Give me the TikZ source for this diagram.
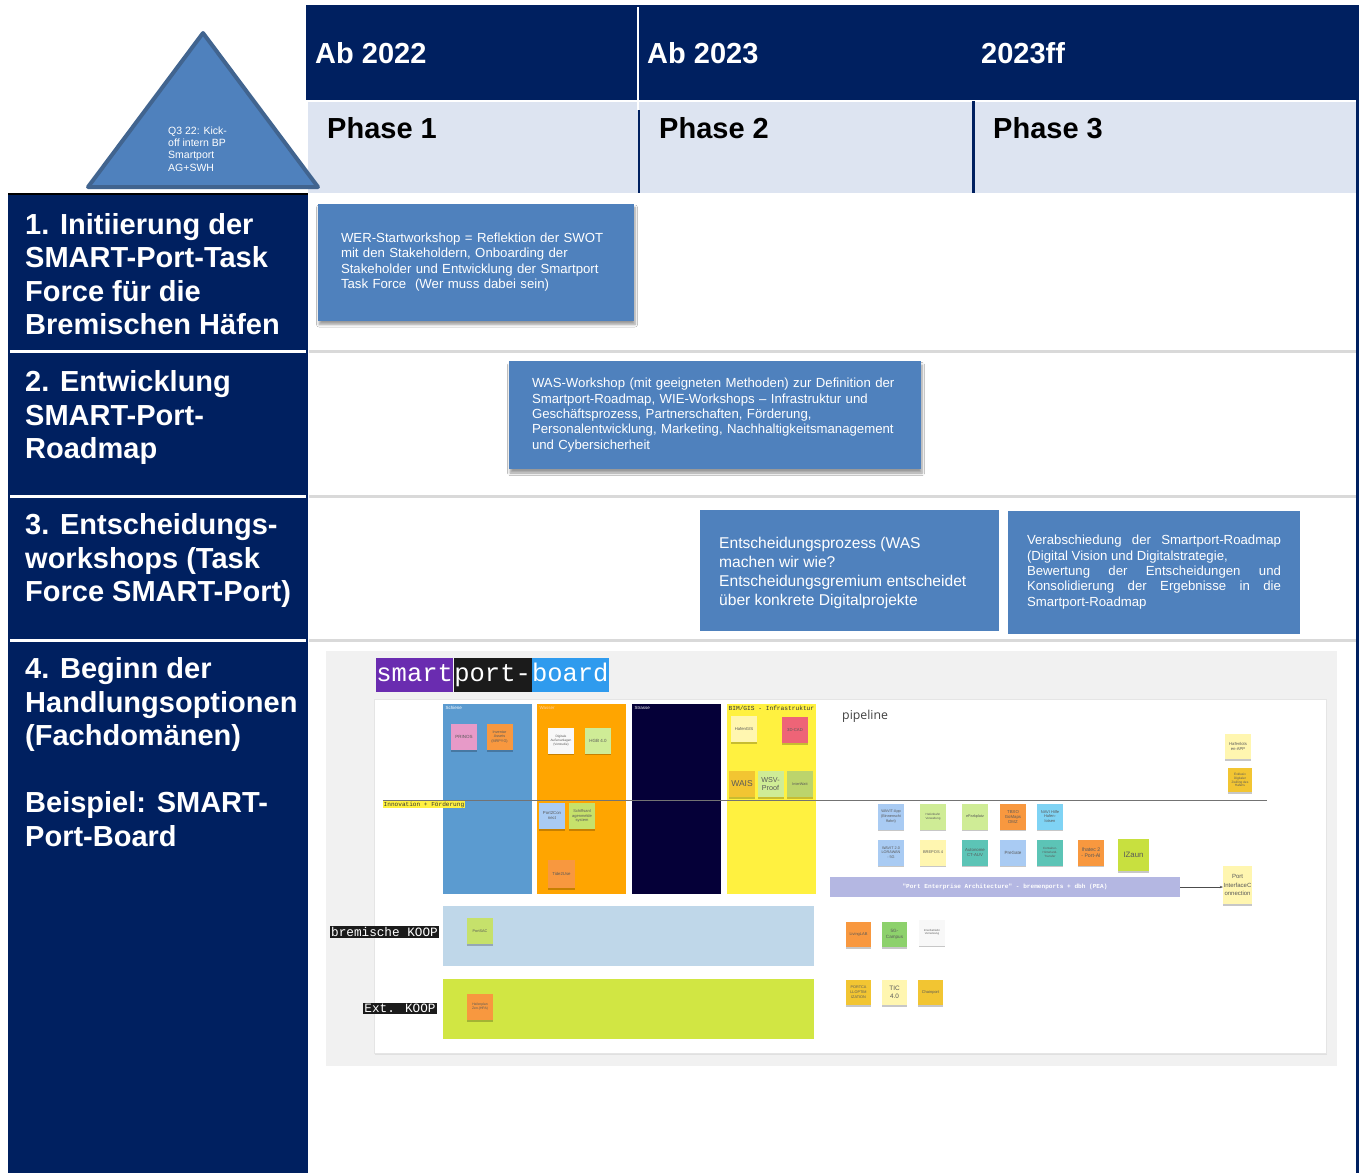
\documentclass[tikz,border=0pt]{standalone}
\usepackage{fontspec}
\setmainfont{Liberation Sans}
\newfontfamily\monofont{Liberation Mono}
\newfontfamily\opensans{Open Sans}
\usetikzlibrary{shadows,shadows.blur,arrows.meta}

\definecolor{hdrnavy}{HTML}{002060}
\definecolor{bandblue}{HTML}{DDE4F1}
\definecolor{boxblue}{HTML}{4F81BD}
\definecolor{triedge}{HTML}{41648F}
\definecolor{sepgray}{HTML}{D9D9D9}
\definecolor{boardbg}{HTML}{F1F1F1}
\definecolor{colschiene}{HTML}{5B9BD0}
\definecolor{colwasser}{HTML}{FFA500}
\definecolor{colstrasse}{HTML}{050038}
\definecolor{colbim}{HTML}{FFF140}
\definecolor{kooplight}{HTML}{BFD7E9}
\definecolor{kooplime}{HTML}{D1E643}
\definecolor{peabar}{HTML}{B4B7E2}
\definecolor{titlepurple}{HTML}{6A2CB0}
\definecolor{titleblack}{HTML}{1B1B1B}
\definecolor{titleblue}{HTML}{2F9BEE}
\definecolor{stpink}{HTML}{E79AC8}
\definecolor{storange}{HTML}{F8983F}
\definecolor{stwhite}{HTML}{F8F8F8}
\definecolor{stlgreen}{HTML}{CFEC96}
\definecolor{stblue}{HTML}{A9CBF3}
\definecolor{stolive}{HTML}{C6E16B}
\definecolor{stpale}{HTML}{FFF6B0}
\definecolor{stred}{HTML}{EE6477}
\definecolor{stgold}{HTML}{F2C532}
\definecolor{stgreen2}{HTML}{BCD46C}
\definecolor{stcyan}{HTML}{7FD3F4}
\definecolor{stteal}{HTML}{5CC4B6}
\definecolor{stlime}{HTML}{C8E03F}
\definecolor{stgreen}{HTML}{8DD16C}

\tikzset{
  rowtitle/.style={anchor=north west, inner sep=0pt, align=left, text=white,
    font=\fontsize{29}{33.5}\selectfont\bfseries},
  yearlabel/.style={anchor=base west, inner sep=0pt, text=white,
    font=\fontsize{29}{33}\selectfont\bfseries},
  phaselabel/.style={anchor=base west, inner sep=0pt, text=black,
    font=\fontsize{29}{33}\selectfont\bfseries},
  bluebox/.style={fill=boxblue, inner sep=0pt, text=white, align=left},
  boxshadow/.style={blur shadow={shadow xshift=1pt, shadow yshift=-4pt,
    shadow blur steps=6, shadow opacity=40, shadow blur radius=2.5pt}},
  sticky/.style={minimum width=26pt, minimum height=26pt, inner sep=0.5pt,
    align=center, text=black!65, font=\fontsize{3.8}{4.4}\selectfont,
    drop shadow={shadow xshift=0pt, shadow yshift=-1.6pt, opacity=0.22, fill=black}},
  lane/.style={inner sep=0pt},
  lanelabel/.style={anchor=north west, inner sep=0.4pt, font=\fontsize{4.5}{5}\selectfont},
  kooplabel/.style={fill=titleblack, text=white, inner sep=1.2pt,
    font=\monofont\fontsize{12.7}{13}\selectfont},
  titlepart/.style={anchor=west, inner sep=0pt, minimum height=34pt, text=white,
    text height=17pt, text depth=5pt,
    font=\monofont\fontsize{25.5}{26}\selectfont}
}

\begin{document}
\begin{tikzpicture}[x=1pt,y=-1pt]
\useasboundingbox (0,0) rectangle (1364,1173);
\fill[white] (0,0) rectangle (1364,1173);

% ---------- header bands ----------
\fill[hdrnavy] (306,5) rectangle (1358,100);
\fill[bandblue] (308,101) rectangle (1356,193);
\draw[white, line width=2pt] (306,100.5) -- (1358,100.5);
\draw[white, line width=2pt] (638,7) -- (638,110);
\draw[hdrnavy, line width=2.5pt] (639,110) -- (639,193);
\draw[hdrnavy, line width=3pt] (973,101) -- (973,193);
\fill[hdrnavy] (1356,5) rectangle (1359,1173);

\node[yearlabel] (y1) at (315,63) {Ab 2022};
\node[yearlabel] (y2) at (647,63) {Ab 2023};
\node[yearlabel] (y3) at (981,63) {2023ff};
\node[phaselabel] (p1) at (327,138) {Phase 1};
\node[phaselabel] (p2) at (659,138) {Phase 2};
\node[phaselabel] (p3) at (993,138) {Phase 3};

% ---------- left column with row titles ----------
\fill[hdrnavy] (8,194) rectangle (308,1173);
\draw[black, line width=2.5pt] (8,194) -- (308,194);
\foreach \yy in {351.5,496.5,640.5}{
  \draw[white, line width=3pt] (10,\yy) -- (306,\yy);
  \draw[sepgray, line width=3pt] (309,\yy) -- (1356,\yy);
}

\node[rowtitle] (row1) at (25,213) {1. Initiierung der\\SMART-Port-Task\\Force für die\\Bremischen Häfen};
\node[rowtitle] (row2) at (25,370.5) {2. Entwicklung\\SMART-Port-\\Roadmap};
\node[rowtitle] (row3) at (25,513.5) {3. Entscheidungs-\\workshops (Task\\Force SMART-Port)};
\node[rowtitle] (row4) at (25,657.5) {4. Beginn der\\Handlungsoptionen\\(Fachdomänen)\\[33.5pt]Beispiel: SMART-\\Port-Board};

% ---------- kick-off triangle ----------
\draw[fill=boxblue, draw=triedge, line width=4pt, line join=round]
  (203,33) -- (318,187) -- (88,187) -- cycle;
\node[anchor=north west, inner sep=0pt, align=left, text=white,
  font=\fontsize{10.5}{12.3}\selectfont] (kick) at (168,126.5)
  {Q3 22: Kick-\\off intern BP\\Smartport\\AG+SWH};

% ---------- workshop boxes ----------
\node[bluebox, boxshadow, minimum width=316pt, minimum height=117pt, text width=270pt,
  font=\fontsize{13.2}{15.4}\selectfont] (wer) at (476,262)
  {WER-Startworkshop = Reflektion der SWOT\\mit den Stakeholdern, Onboarding der\\Stakeholder und Entwicklung der Smartport\\Task Force\ \ (Wer muss dabei sein)};

\node[bluebox, boxshadow, minimum width=412pt, minimum height=108pt, text width=366pt,
  font=\fontsize{13.2}{15.4}\selectfont] (was) at (715,415)
  {WAS-Workshop (mit geeigneten Methoden) zur Definition der\\Smartport-Roadmap, WIE-Workshops -- Infrastruktur und\\Geschäftsprozess, Partnerschaften, Förderung,\\Personalentwicklung, Marketing, Nachhaltigkeitsmanagement\\und Cybersicherheit};

\node[bluebox, minimum width=299pt, minimum height=121pt] (decide) at (849.5,570) {};
\node[anchor=north west, inner sep=0pt, align=left, text=white,
  font=\fontsize{15.6}{19.1}\selectfont] (decidetext) at (719,536.5)
  {Entscheidungsprozess (WAS\\machen wir wie?\\Entscheidungsgremium entscheidet\\über konkrete Digitalprojekte};

\node[bluebox, align=justify, minimum width=292pt, minimum height=123pt, text width=254pt,
  font=\fontsize{13.2}{15.3}\selectfont] (adopt) at (1154,572)
  {Verabschiedung der Smartport-Roadmap\linebreak (Digital Vision und Digitalstrategie,\\
   Bewertung der Entscheidungen und\linebreak Konsolidierung der Ergebnisse in die\linebreak Smartport-Roadmap};

% ---------- smartport board ----------
\fill[boardbg] (326,651) rectangle (1337,1066);
\node[fill=white, draw=black!10, inner sep=0pt, minimum width=952pt, minimum height=354pt,
  drop shadow={shadow xshift=1pt, shadow yshift=-2pt, opacity=0.15}] (panel) at (850,876) {};

\node[titlepart, fill=titlepurple, minimum width=77pt] (tsmart) at (376,675) {smart};
\node[titlepart, fill=titleblack, minimum width=78pt] (tport) at (tsmart.east) {port-};
\node[titlepart, fill=titleblue, minimum width=76pt] (tboard) at (tport.east) {board};

% domain lanes
\node[lane, fill=colschiene, minimum width=89pt, minimum height=190pt] (schiene) at (487.5,799) {};
\node[lane, fill=colwasser, minimum width=89pt, minimum height=190pt] (wasser) at (581.5,799) {};
\node[lane, fill=colstrasse, minimum width=89pt, minimum height=190pt] (strasse) at (676.5,799) {};
\node[lane, fill=colbim, minimum width=89pt, minimum height=190pt] (bim) at (771.5,799) {};
\node[lanelabel, text=white] (lschiene) at (445,706) {Schiene};
\node[lanelabel, text=orange!35!white] (lwasser) at (539,706) {Wasser};
\node[lanelabel, text=white] (lstrasse) at (634,706) {Strasse};
\node[lanelabel, text=black!80, font=\monofont\fontsize{6.2}{7}\selectfont] (lbim) at (728,705.5) {BIM/GIS - Infrastruktur};

% innovation divider
\coordinate (innoL) at (383,800);
\coordinate (innoR) at (1267,800);
\draw[black!55, line width=0.7pt] (innoL) -- (innoR);
\node[anchor=north west, fill=colbim, inner sep=0.5pt, text=black!80,
  font=\monofont\fontsize{6.1}{6.5}\selectfont] (inno) at (383,801) {Innovation + Förderung};

\node[anchor=west, inner sep=0pt, text=black!75, font=\opensans\fontsize{12.3}{14}\selectfont] (pipe) at (842,716) {pipeline};

% notes: Schiene / Wasser / BIM
\node[sticky, fill=stpink, font=\fontsize{4.5}{5}\selectfont] (prinos) at (464,737) {PRINOS};
\node[sticky, fill=storange] (inventar) at (499.5,737) {Inventar\\Assets\\(MRPYG)};
\node[sticky, fill=stwhite, font=\fontsize{3.2}{3.8}\selectfont] (digaussen) at (561,740.5) {Digitale\\Außenanlagen\\(Vorstudie)};
\node[sticky, fill=stlgreen, font=\fontsize{4.5}{5}\selectfont] (hgb) at (598,740.5) {HGB 4.0};
\node[sticky, fill=stblue, font=\fontsize{4.3}{5}\selectfont] (p2c) at (552,816) {Port2Con\\nect};
\node[sticky, fill=stolive, font=\fontsize{4}{4.8}\selectfont] (schiffs) at (582,816) {Schiffsanl\\agenmelde\\system};
\node[sticky, fill=storange, minimum width=27pt, minimum height=28pt, font=\fontsize{4.3}{5}\selectfont] (tide) at (561.5,874) {Tide2Use};
\node[sticky, fill=stpale, font=\fontsize{4.2}{5}\selectfont] (hafengis) at (744,729) {HafenGIS};
\node[sticky, fill=stred, font=\fontsize{4.2}{5}\selectfont] (cad) at (795,730) {3D-CAD};
\node[sticky, fill=stgold, font=\fontsize{8.5}{9}\selectfont] (wais) at (742,784) {WAIS};
\node[sticky, fill=stlgreen, font=\fontsize{7.2}{8.6}\selectfont] (wsv) at (770.5,784) {WSV-\\Proof};
\node[sticky, fill=stgreen2, font=\fontsize{3.8}{4.4}\selectfont] (interwatt) at (800,784) {InterWatt};

% notes: pipeline
\node[sticky, fill=stpale, minimum height=25pt, font=\fontsize{4.2}{5}\selectfont] (hlots) at (1238,746.5) {Hafenlots\\en-APP};
\node[sticky, fill=stgold, minimum width=24pt, minimum height=24pt, font=\fontsize{3.2}{3.7}\selectfont] (exdz) at (1240,780) {Exklusiv\\Digitaler\\Zwilling des\\Hafens};

\node[sticky, fill=stblue, font=\fontsize{3.8}{4.6}\selectfont] (wavit) at (891,816.5) {WAVIT-App\\(Binnenschi\\ffahrt)};
\node[sticky, fill=stlgreen, font=\fontsize{3}{3.6}\selectfont] (dighb) at (933,816.5) {Hafenbahn\\Verwaltung};
\node[sticky, fill=stlgreen, font=\fontsize{3.8}{4.6}\selectfont] (epark) at (975,816.5) {eParkplatz};
\node[sticky, fill=storange, font=\fontsize{4.3}{5}\selectfont] (tbxo) at (1013,816.5) {TBXO\\GoMaps\\DMZ};
\node[sticky, fill=stcyan, font=\fontsize{4}{4.8}\selectfont] (navi) at (1050,816.5) {NAVI Hilfe\\Hafen-\\lotsen};

\node[sticky, fill=stblue, font=\fontsize{3.8}{4.6}\selectfont] (wavit2) at (891,852.5) {WAVIT 2.0\\LORAWAN\\- 5G};
\node[sticky, fill=stpale, font=\fontsize{4}{4.8}\selectfont] (brepos) at (933,852.5) {BREPOS 4};
\node[sticky, fill=stteal, font=\fontsize{4.3}{5}\selectfont] (autonom) at (975,852.5) {Autonome\\CT-AUV};
\node[sticky, fill=stblue, font=\fontsize{4.5}{5}\selectfont] (pregate) at (1013,852.5) {PreGate};
\node[sticky, fill=stteal, font=\fontsize{3}{3.6}\selectfont] (contain) at (1050,852.5) {Container-\\Hinterland-\\Transfer};
\node[sticky, fill=storange, font=\fontsize{5.2}{6.4}\selectfont] (ihatec) at (1091,852.5) {Ihatec 2\\- Port-AI};
\node[sticky, fill=stlime, minimum width=31pt, minimum height=32pt, font=\fontsize{7.8}{9}\selectfont] (izaun) at (1133.5,855) {IZaun};

\node[inner sep=0pt, fill=peabar, minimum width=350pt, minimum height=20pt, text=white,
  font=\monofont\bfseries\fontsize{6.1}{7}\selectfont] (pea) at (1005,887)
  {"Port Enterprise Architecture" - bremenports + dbh (PEA)};
\node[sticky, fill=stpale, minimum width=29pt, minimum height=38pt, font=\fontsize{6}{8.2}\selectfont] (pic) at (1237.5,885)
  {Port\\InterfaceC\\onnection};
\draw[-{Stealth[length=3pt,width=2.5pt]}, black!70, line width=0.5pt] (pea.east) -- (pea.east -| pic.west);

% cooperation lanes
\node[lane, fill=kooplight, minimum width=371pt, minimum height=60pt] (bremband) at (628.5,936) {};
\node[lane, fill=kooplime, minimum width=371pt, minimum height=60pt] (extband) at (628.5,1009) {};
\node[kooplabel] (bremlab) at (384.5,932) {bremische KOOP};
\node[kooplabel] (extlab) at (400,1008.5) {Ext. KOOP};

\node[sticky, fill=stolive, font=\fontsize{3.8}{4.4}\selectfont] (portsac) at (480,931) {PortSAC};
\node[sticky, fill=storange, font=\fontsize{3.4}{4.2}\selectfont] (hafenplan) at (480,1007) {Hafenplan\\Zen.(HPA)};
\node[sticky, fill=storange, minimum width=25pt, minimum height=25pt, font=\fontsize{4}{4.6}\selectfont] (living) at (858.5,934.5) {LivingLAB};
\node[sticky, fill=stgreen, minimum width=25pt, minimum height=25pt, font=\fontsize{4.6}{6}\selectfont] (campus) at (894.5,934.5) {5G-\\Campus};
\node[sticky, fill=stwhite, font=\fontsize{2.8}{3.4}\selectfont] (inner) at (932,932.5) {Innerbetriebl.\\Vernetzung};
\node[sticky, fill=stgold, minimum width=25pt, minimum height=25pt, font=\fontsize{3.8}{5}\selectfont] (portcall) at (858.5,992.5) {PORTCA\\LLOPTIM\\IZATION};
\node[sticky, fill=stpale, minimum width=25pt, minimum height=25pt, font=\fontsize{6.4}{8}\selectfont] (tic) at (894.5,992.5) {TIC\\4.0};
\node[sticky, fill=stgold, minimum width=25pt, minimum height=25pt, font=\fontsize{4}{4.6}\selectfont] (chain) at (930.5,992.5) {Chainport};

\end{tikzpicture}
\end{document}
